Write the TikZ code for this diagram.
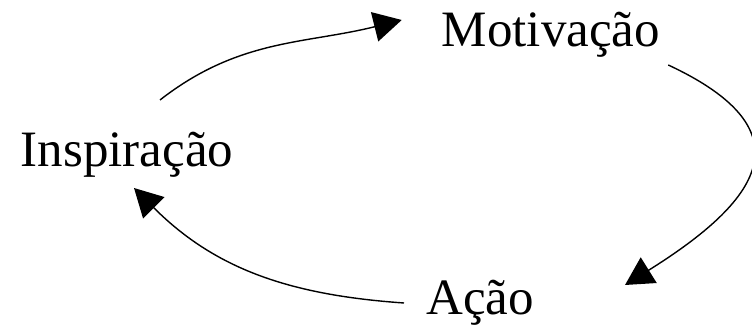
\documentclass[tikz,border=0pt]{standalone}
\usepackage{fontspec}
\setmainfont{Liberation Serif}
\usetikzlibrary{arrows.meta}

\tikzset{
  stage/.style={inner sep=0pt, anchor=base, font=\fontsize{51}{60}\selectfont},
  cyclearrow/.style={line width=1.4pt, -{Triangle[length=28pt,width=30pt]}}
}

\begin{document}
\begin{tikzpicture}[x=1pt,y=1pt]
\useasboundingbox (0,0) rectangle (752,331);
\node[stage] (motivacao) at (551,284) {Motivação};
\node[stage] (inspiracao) at (127,164) {Inspiração};
\node[stage] (acao) at (480,16) {Ação};
% the cycle
\draw[cyclearrow] ([shift={(33,67)}]inspiracao.base) to[out=38,in=194] ([shift={(-40,27)}]motivacao.base west);
\draw[cyclearrow] ([shift={(8,-18)}]motivacao.base east) to[out=-25,in=32,looseness=1.8] ([shift={(91,30)}]acao.base east);
\draw[cyclearrow] ([shift={(-22,12)}]acao.base west) to[out=176,in=-45] ([shift={(7,-21)}]inspiracao.base);
\end{tikzpicture}
\end{document}
